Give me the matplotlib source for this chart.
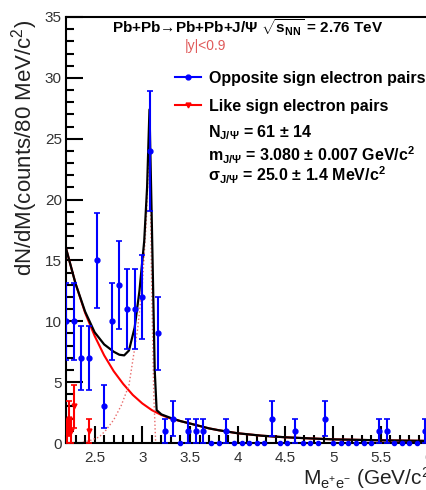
import numpy as np
import matplotlib
matplotlib.use("Agg")
import matplotlib.pyplot as plt
from matplotlib.lines import Line2D
from matplotlib.ticker import MultipleLocator, FuncFormatter

plt.rcParams['font.family'] = ['Liberation Sans', 'DejaVu Sans']
plt.rcParams['mathtext.fontset'] = 'custom'
plt.rcParams['mathtext.rm'] = 'Liberation Sans'
plt.rcParams['mathtext.it'] = 'Liberation Sans:italic'
plt.rcParams['mathtext.bf'] = 'Liberation Sans:bold'

### DATA
# opposite sign pairs, 80 MeV bins
os_mass = [2.20, 2.28, 2.36, 2.44, 2.52, 2.60, 2.68, 2.76, 2.84, 2.92,
           3.00, 3.08, 3.16, 3.24, 3.32, 3.40, 3.48, 3.56, 3.64, 3.72,
           3.80, 3.88, 3.96, 4.04, 4.12, 4.20, 4.28, 4.36, 4.44, 4.52,
           4.60, 4.68, 4.76, 4.84, 4.92, 5.00, 5.08, 5.16, 5.24, 5.32,
           5.40, 5.48, 5.56, 5.64, 5.72, 5.80, 5.88, 5.96]
os_counts = [10, 10, 7, 7, 15, 3, 10, 13, 11, 11,
             12, 24, 9, 1, 2, 0, 1, 1, 1, 0,
             0, 1, 0, 0, 0, 0, 0, 2, 0, 0,
             1, 0, 0, 0, 2, 0, 0, 0, 0, 0,
             0, 1, 1, 0, 0, 0, 0, 1]

# like sign pairs
ls_mass = [2.21, 2.235, 2.255, 2.28, 2.44]
ls_counts = [1, 2, 1, 3, 1]

# fit curves
fit_mass = [2.20, 2.30, 2.40, 2.50, 2.60, 2.70, 2.76, 2.81, 2.86, 2.92,
            2.97, 3.02, 3.05, 3.075, 3.10, 3.13, 3.15, 3.20, 3.30, 3.40,
            3.50, 3.60, 3.70, 3.80, 4.00, 4.25, 4.50, 4.75, 5.00, 5.50, 6.00]
fit_total = [16.0, 13.1, 10.8, 9.1, 8.1, 7.5, 7.25, 7.2, 7.6, 9.5,
             12.5, 16.6, 21.0, 27.4, 18.0, 6.0, 2.7, 2.35, 2.05, 1.8,
             1.6, 1.4, 1.2, 1.05, 0.8, 0.6, 0.47, 0.38, 0.3, 0.22, 0.17]

bkg_mass = [2.20, 2.30, 2.40, 2.50, 2.60, 2.70, 2.80, 2.90, 3.00, 3.10,
            3.20, 3.30, 3.40, 3.50, 3.60, 3.70, 3.80, 4.00, 4.25, 4.50,
            4.75, 5.00, 5.50, 6.00]
bkg_fit = [16.0, 13.1, 10.7, 8.8, 7.2, 5.9, 4.85, 3.95, 3.25, 2.7,
           2.3, 2.0, 1.8, 1.6, 1.4, 1.2, 1.05, 0.8, 0.6, 0.47,
           0.38, 0.3, 0.22, 0.17]

sig_mass = [2.34, 2.45, 2.55, 2.62, 2.70, 2.78, 2.86, 2.95, 3.00, 3.04,
            3.075, 3.10, 3.12, 3.14]
sig_fit = [0.0, 0.2, 0.5, 1.07, 1.9, 3.1, 4.75, 9.3, 13.0, 18.0,
           25.0, 12.0, 4.0, 0.0]

### FIGURE
fig = plt.figure(figsize=(4.27, 4.90), dpi=100)
ax = fig.add_axes([66/427, 47/490, 362.5/427, 426/490])

blue = '#0000ff'
red = '#ff0000'

ax.plot(bkg_mass, bkg_fit, color=red, lw=1.5, zorder=2)
ax.plot(sig_mass, sig_fit, color='#e86a6a', lw=1.0, ls=':', zorder=2)
ax.plot(fit_mass, fit_total, color='black', lw=1.6, zorder=3)

os_mass = np.array(os_mass)
os_counts = np.array(os_counts)
filled = os_counts > 0
ax.errorbar(os_mass[filled], os_counts[filled], yerr=np.sqrt(os_counts[filled]),
            fmt='o', color=blue, ms=3.5, elinewidth=1.5, capsize=2.2,
            capthick=1.2, zorder=4)
ax.plot(os_mass[~filled], os_counts[~filled], 'o', color=blue, ms=3,
        zorder=4, clip_on=False)

ax.errorbar(ls_mass, ls_counts, yerr=np.sqrt(ls_counts), fmt='v', color=red,
            ms=3.5, elinewidth=1.5, capsize=2.0, capthick=1.2, zorder=4)

ax.set_xlim(2.2, 6.0)
ax.set_ylim(0, 35)
ax.xaxis.set_major_locator(MultipleLocator(0.5))
ax.xaxis.set_minor_locator(MultipleLocator(0.1))
ax.yaxis.set_major_locator(MultipleLocator(5))
ax.yaxis.set_minor_locator(MultipleLocator(1))
ax.xaxis.set_major_formatter(FuncFormatter(lambda v, p: '%g' % v))
ax.tick_params(which='major', direction='in', length=12, width=1.5,
               labelsize=11, labelcolor='#333333', top=False, right=False)
ax.tick_params(which='minor', direction='in', length=6, width=1.5,
               top=False, right=False)
ax.tick_params(axis='y', pad=3)
ax.tick_params(axis='x', pad=6)
for side in ['left', 'bottom', 'top', 'right']:
    ax.spines[side].set_linewidth(1.5)

### TEXT
fig.text(25/427, 470/490, 'dN/dM(counts/80 MeV/c$^{2}$)', rotation=90,
         ha='center', va='top', fontsize=16, color='#222222')
fig.text(303/427, 12/490, r'M$_{\mathrm{e^{+}e^{-}}}$ (GeV/c$^{2}$)',
         ha='left', va='center', fontsize=15, color='#222222')

ax.text(0.5, 0.975,
        r'Pb+Pb→Pb+Pb+J/Ψ $\sqrt{\mathbf{s}_{\mathbf{NN}}}$ = 2.76 TeV',
        transform=ax.transAxes, ha='center', va='center', fontsize=11,
        fontweight='bold')
ax.text((205-66)/362.5, (443-46)/426, '|y|<0.9', transform=ax.transAxes,
        ha='center', va='center', fontsize=10, color='#e05a5a')

handles = [Line2D([], [], color=blue, marker='o', ms=3.5, lw=1.5),
           Line2D([], [], color=red, marker='v', ms=3.5, lw=1.5)]
ax.legend(handles, ['Opposite sign electron pairs', 'Like sign electron pairs'],
          loc='upper left', bbox_to_anchor=((175-66)/362.5, (443-71)/426),
          frameon=False, borderpad=0, borderaxespad=0, handlelength=1.6,
          handletextpad=0.5, labelspacing=0.8,
          prop={'weight': 'bold', 'size': 11.5})

stats = [r'N$_{\mathbf{J/Ψ}}$ = 61 ± 14',
         r'm$_{\mathbf{J/Ψ}}$ = 3.080 ± 0.007 GeV/c$^{\mathbf{2}}$',
         r'σ$_{\mathbf{J/Ψ}}$ = 25.0 ± 1.4 MeV/c$^{\mathbf{2}}$']
for txt, ypix in zip(stats, [133, 155, 175]):
    ax.text((208-66)/362.5, (443-ypix)/426, txt, transform=ax.transAxes,
            ha='left', va='center', fontsize=11.5, fontweight='bold')

fig.savefig('out.png', dpi=100)
